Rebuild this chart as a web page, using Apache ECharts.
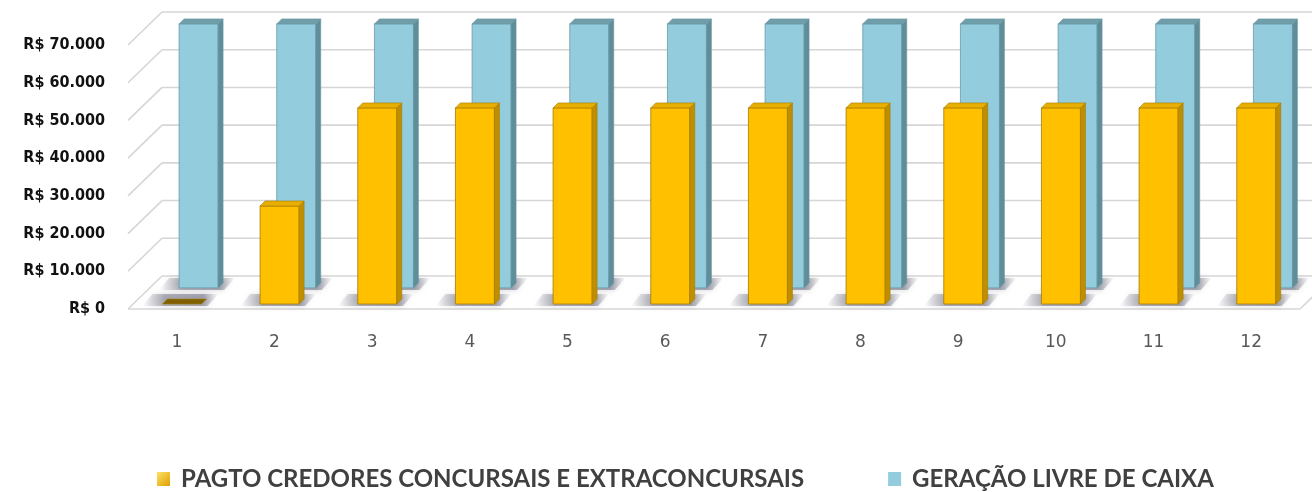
<!DOCTYPE html>
<html>
<head>
<meta charset="utf-8">
<script src="https://cdn.jsdelivr.net/npm/echarts@6/dist/echarts.min.js"></script>
<style>
  html, body { margin: 0; padding: 0; background: #ffffff; }
  #chart { width: 1312px; height: 492px; }
</style>
</head>
<body>
<div id="chart"></div>
<script>
// Months of the payment plan
const categories = ['1', '2', '3', '4', '5', '6', '7', '8', '9', '10', '11', '12'];
// Payments to creditors (front row)
const pagtoCredores = [0, 26000, 52000, 52000, 52000, 52000, 52000, 52000, 52000, 52000, 52000, 52000];
// Free cash generation (back row)
const geracaoLivre = [70000, 70000, 70000, 70000, 70000, 70000, 70000, 70000, 70000, 70000, 70000, 70000];
// Value-axis ticks
const yTicks = [0, 10000, 20000, 30000, 40000, 50000, 60000, 70000];
const seriesNames = ['PAGTO CREDORES CONCURSAIS E EXTRACONCURSAIS', 'GERAÇÃO LIVRE DE CAIXA'];

// Pseudo-3D geometry (pixels)
const DEPTH_X = 34;     // horizontal shift from the front plane to the back wall
const DEPTH_Y = 33;     // vertical shift from the front plane to the back wall
const BAR_W = 39;       // front face width
const BAR_D = 5;        // bar thickness (side/top face)
const GRID_COLOR = '#d6d6d6';

const brl = v => 'R$ ' + String(v).replace(/\B(?=(\d{3})+(?!\d))/g, '.');

// Back wall, side wall and floor lines
function renderWalls(params, api) {
  const cs = params.coordSys;
  const x0 = cs.x, x1 = cs.x + cs.width;
  const children = [];
  const line = (a, b) => ({
    type: 'line',
    shape: { x1: a[0], y1: a[1], x2: b[0], y2: b[1] },
    style: { stroke: GRID_COLOR, lineWidth: 1.6 },
    silent: true
  });
  yTicks.forEach(t => {
    const y = api.coord([0, t])[1];
    children.push(line([x0, y], [x0 + DEPTH_X, y - DEPTH_Y]));
    children.push(line([x0 + DEPTH_X, y - DEPTH_Y], [x1 + DEPTH_X, y - DEPTH_Y]));
  });
  const yb = api.coord([0, 0])[1];
  children.push(line([x0, yb], [x1, yb]));
  children.push(line([x1, yb], [x1 + DEPTH_X, yb - DEPTH_Y]));
  return { type: 'group', children: children };
}

// One 3D column: floor shadow, front face, side face and top face
function columnRenderer(depthFrac, pal) {
  return function (params, api) {
    const i = api.value(0);
    const v = api.value(1);
    const base = api.coord([i, 0]);
    const top = api.coord([i, v]);
    const ox = depthFrac * DEPTH_X, oy = depthFrac * DEPTH_Y;
    const cx = base[0] + ox;
    const yb = base[1] - oy;
    const yt = top[1] - oy;
    const xl = cx - BAR_W / 2, xr = cx + BAR_W / 2, d = BAR_D;
    const children = [];
    // soft floor shadow
    children.push({
      type: 'polygon',
      shape: { points: [[xl - 20, yb + 2], [xl - 10, yb - 10], [xr + d + 12, yb - 10], [xr + 6, yb + 2]] },
      style: {
        fill: {
          type: 'linear', x: 0, y: 0, x2: 1, y2: 0,
          colorStops: [
            { offset: 0, color: 'rgba(95,95,115,0)' },
            { offset: 0.3, color: 'rgba(95,95,115,0.45)' },
            { offset: 0.8, color: 'rgba(95,95,115,0.5)' },
            { offset: 1, color: 'rgba(95,95,115,0)' }
          ]
        },
        shadowBlur: 6,
        shadowColor: 'rgba(95,95,115,0.5)'
      },
      silent: true
    });
    if (yb - yt > 0.5) {
      children.push({
        type: 'rect',
        shape: { x: xl, y: yt, width: BAR_W, height: yb - yt },
        style: { fill: pal.front, stroke: pal.edge, lineWidth: 0.8 },
        silent: true
      });
      children.push({
        type: 'polygon',
        shape: { points: [[xr, yt], [xr + d, yt - d], [xr + d, yb - d], [xr, yb]] },
        style: { fill: pal.side, stroke: pal.edge, lineWidth: 0.6 },
        silent: true
      });
    }
    children.push({
      type: 'polygon',
      shape: { points: [[xl, yt], [xl + d, yt - d], [xr + d, yt - d], [xr, yt]] },
      style: { fill: v === 0 ? pal.flat : pal.top, stroke: pal.edge, lineWidth: 0.6 },
      silent: true
    });
    return { type: 'group', children: children };
  };
}

const yellow = { front: '#FFC000', side: '#C08F00', top: '#E8AE00', edge: '#A57A00', flat: '#7F6000' };
const blue = { front: '#93CDDD', side: '#5F8D9A', top: '#6F9DAA', edge: '#6A98A5', flat: '#6F9DAA' };

const chart = echarts.init(document.getElementById('chart'), null, { renderer: 'canvas' });
chart.setOption({
  animation: false,
  backgroundColor: '#ffffff',
  grid: { left: 128, right: 12, top: 45, bottom: 183, containLabel: false },
  legend: {
    left: 152,
    top: 462,
    itemWidth: 13,
    itemHeight: 14,
    itemGap: 84,
    icon: 'rect',
    data: [seriesNames[0], seriesNames[1]],
    textStyle: {
      fontFamily: 'Lato, sans-serif',
      fontWeight: 'bold',
      fontSize: 24,
      color: '#404040',
      padding: [0, 0, 0, 6]
    }
  },
  xAxis: {
    type: 'category',
    data: categories,
    axisLine: { show: false },
    axisTick: { show: false },
    axisLabel: {
      color: '#595959',
      fontFamily: '"DejaVu Sans", sans-serif',
      fontSize: 17,
      margin: 25
    }
  },
  yAxis: {
    type: 'value',
    min: 0,
    max: 70000,
    interval: 10000,
    axisLine: { show: false },
    axisTick: { show: false },
    splitLine: { show: false },
    axisLabel: {
      formatter: brl,
      color: '#111111',
      fontFamily: '"DejaVu Sans Condensed", "DejaVu Sans", sans-serif',
      fontWeight: 'bold',
      fontSize: 16,
      margin: 23
    }
  },
  series: [
    {
      type: 'custom',
      name: 'walls',
      renderItem: renderWalls,
      data: [[0, 0]],
      encode: { x: 0, y: 1 },
      silent: true,
      z: 1
    },
    {
      type: 'custom',
      name: seriesNames[1],
      renderItem: columnRenderer(0.64, blue),
      data: geracaoLivre.map((v, i) => [i, v]),
      encode: { x: 0, y: 1 },
      itemStyle: { color: '#93CDDD' },
      z: 2
    },
    {
      type: 'custom',
      name: seriesNames[0],
      renderItem: columnRenderer(0.15, yellow),
      data: pagtoCredores.map((v, i) => [i, v]),
      encode: { x: 0, y: 1 },
      itemStyle: {
        color: {
          type: 'linear', x: 0, y: 0, x2: 1, y2: 1,
          colorStops: [{ offset: 0, color: '#FFE066' }, { offset: 1, color: '#E0A000' }]
        }
      },
      z: 3
    }
  ]
});
</script>
</body>
</html>
